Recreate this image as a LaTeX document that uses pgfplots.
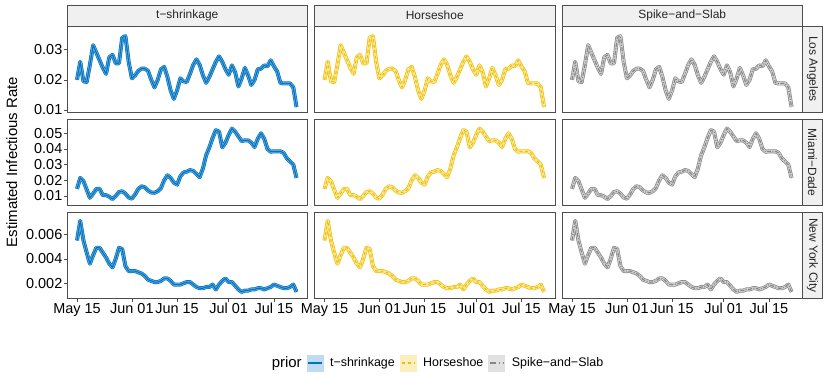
\documentclass[border=0pt]{standalone}
\usepackage{pgfplots}
\pgfplotsset{compat=1.18}
\usepackage{pgfplotstable}
\usepackage{fontspec}
\setmainfont{Liberation Sans}

\definecolor{cBlue}{HTML}{0073C2}
\definecolor{cYellow}{HTML}{EFC000}
\definecolor{cGray}{HTML}{868686}
\definecolor{stripfill}{HTML}{F0F0F0}
\definecolor{frame}{HTML}{4D4D4D}

% day 0 = May 15
\pgfplotstableread{
d m
0 0.0200
1 0.0260
2 0.0195
3 0.0193
4 0.0250
5 0.0315
6 0.0290
7 0.0265
8 0.0240
9 0.0220
10 0.0275
11 0.0283
12 0.0255
13 0.0255
14 0.0340
15 0.0345
16 0.0260
17 0.0205
18 0.0215
19 0.0230
20 0.0237
21 0.0237
22 0.0230
23 0.0200
24 0.0175
25 0.0200
26 0.0235
27 0.0243
28 0.0210
29 0.0165
30 0.0137
31 0.0165
32 0.0205
33 0.0195
34 0.0193
35 0.0220
36 0.0250
37 0.0268
38 0.0250
39 0.0215
40 0.0190
41 0.0210
42 0.0235
43 0.0260
44 0.0278
45 0.0260
46 0.0235
47 0.0217
48 0.0248
49 0.0225
50 0.0178
51 0.0205
52 0.0240
53 0.0215
54 0.0183
55 0.0200
56 0.0235
57 0.0237
58 0.0248
59 0.0245
60 0.0265
61 0.0245
62 0.0228
63 0.0190
64 0.0188
65 0.0188
66 0.0188
67 0.0175
68 0.0110
}\la

\pgfplotstableread{
d m
0 0.0145
1 0.0215
2 0.0195
3 0.0140
4 0.0088
5 0.0115
6 0.0145
7 0.0145
8 0.0105
9 0.0105
10 0.0095
11 0.0080
12 0.0100
13 0.0125
14 0.0130
15 0.0115
16 0.0090
17 0.0083
18 0.0110
19 0.0145
20 0.0162
21 0.0155
22 0.0135
23 0.0122
24 0.0120
25 0.0130
26 0.0150
27 0.0200
28 0.0232
29 0.0215
30 0.0185
31 0.0172
32 0.0225
33 0.0250
34 0.0255
35 0.0265
36 0.0260
37 0.0240
38 0.0220
39 0.0275
40 0.0360
41 0.0410
42 0.0470
43 0.0520
44 0.0510
45 0.0410
46 0.0440
47 0.0490
48 0.0530
49 0.0510
50 0.0480
51 0.0450
52 0.0455
53 0.0455
54 0.0440
55 0.0412
56 0.0465
57 0.0500
58 0.0465
59 0.0400
60 0.0382
61 0.0385
62 0.0385
63 0.0385
64 0.0375
65 0.0340
66 0.0320
67 0.0300
68 0.0215
}\mia

\pgfplotstableread{
d m
0 0.0055
1 0.0071
2 0.0055
3 0.0045
4 0.0036
5 0.0043
6 0.0049
7 0.0049
8 0.0045
9 0.0041
10 0.0036
11 0.0033
12 0.0040
13 0.0049
14 0.0048
15 0.0034
16 0.0030
17 0.0030
18 0.0030
19 0.0029
20 0.0028
21 0.0026
22 0.0023
23 0.0022
24 0.0021
25 0.0021
26 0.0022
27 0.0024
28 0.0024
29 0.0022
30 0.0019
31 0.0019
32 0.0019
33 0.0020
34 0.0021
35 0.0021
36 0.0019
37 0.0017
38 0.0016
39 0.0016
40 0.0017
41 0.0017
42 0.0019
43 0.0015
44 0.0019
45 0.0022
46 0.0024
47 0.0021
48 0.0021
49 0.0018
50 0.0015
51 0.0013
52 0.0014
53 0.0014
54 0.0015
55 0.0015
56 0.0016
57 0.0016
58 0.0015
59 0.0016
60 0.0017
61 0.0019
62 0.0018
63 0.0017
64 0.0016
65 0.0016
66 0.0017
67 0.0019
68 0.0013
}\nyc

\pgfplotsset{
  panel/.style={
    scale only axis, width=240.5bp, height=86bp,
    anchor=north west,
    xmin=-3.1, xmax=71.4,
    axis line style={frame, line width=0.8bp},
    tick style={frame, line width=0.6bp},
    tick align=outside, major tick length=3bp,
    tick pos=left,
    scaled y ticks=false,
    ticklabel style={font=\fontsize{14.5}{16}\selectfont, inner sep=1.5bp},
    xtick=\empty, ytick=\empty,
  },
  bottomrow/.style={xtick={0,17,31,47,61},
    xticklabels={May 15,Jun 01,Jun 15,Jul 01,Jul 15}},
  rowLA/.style={ymin=0.00934, ymax=0.03787},
  rowMI/.style={ymin=0.0039, ymax=0.0588},
  rowNY/.style={ymin=0.00076, ymax=0.00778},
  band/.style={line width=0.7bp, double distance=2.6bp, line join=round, forget plot},
  mid/.style={line width=1.1bp, line join=round, forget plot},
}

% one panel: #1 table, #2 colour, #3 inner shade, #4 centre line pattern
\newcommand{\series}[4]{%
  \addplot[band, #2, double=#2!#3!white] table[x=d, y=m] {#1};
  \addplot[mid, #2, #4] table[x=d, y=m] {#1};
}

\begin{document}
\begin{tikzpicture}
\useasboundingbox (0bp,0bp) rectangle (830bp,-381bp);

% ---- Los Angeles
\begin{axis}[panel, rowLA, at={(67bp,-26bp)},
  ytick={0.01,0.02,0.03}, yticklabels={0.01,0.02,0.03}]
\series{\la}{cBlue}{60}{solid}
\end{axis}
\begin{axis}[panel, rowLA, at={(314.5bp,-26bp)}]
\series{\la}{cYellow}{40}{dash pattern=on 3bp off 2.5bp}
\end{axis}
\begin{axis}[panel, rowLA, at={(562bp,-26bp)}]
\series{\la}{cGray}{40}{dash pattern=on 4bp off 1.5bp on 1bp off 1.5bp}
\end{axis}

% ---- Miami-Dade
\begin{axis}[panel, rowMI, at={(67bp,-119.5bp)},
  ytick={0.01,0.02,0.03,0.04,0.05}, yticklabels={0.01,0.02,0.03,0.04,0.05}]
\series{\mia}{cBlue}{60}{solid}
\end{axis}
\begin{axis}[panel, rowMI, at={(314.5bp,-119.5bp)}]
\series{\mia}{cYellow}{40}{dash pattern=on 3bp off 2.5bp}
\end{axis}
\begin{axis}[panel, rowMI, at={(562bp,-119.5bp)}]
\series{\mia}{cGray}{40}{dash pattern=on 4bp off 1.5bp on 1bp off 1.5bp}
\end{axis}

% ---- New York City
\begin{axis}[panel, rowNY, bottomrow, at={(67bp,-212.5bp)},
  ytick={0.002,0.004,0.006}, yticklabels={0.002,0.004,0.006}]
\series{\nyc}{cBlue}{60}{solid}
\end{axis}
\begin{axis}[panel, rowNY, bottomrow, at={(314.5bp,-212.5bp)},
  legend style={at={(0.501,-0.75)}, anchor=center, legend columns=4,
    draw=none, fill=none, font=\fontsize{12.5}{14}\selectfont,
    /tikz/every odd column/.append style={column sep=5bp},
    /tikz/every even column/.append style={column sep=3bp}},
  legend cell align=left]
\series{\nyc}{cYellow}{40}{dash pattern=on 3bp off 2.5bp}
\addlegendimage{empty legend}
\addlegendentry{\fontsize{15}{18}\selectfont prior}
\addlegendimage{legend image code/.code={
  \fill[cBlue!25] (0bp,-8bp) rectangle (16bp,8bp);
  \draw[cBlue, line width=1.3bp] (1bp,0bp) -- (15bp,0bp);}}
\addlegendentry{t−shrinkage}
\addlegendimage{legend image code/.code={
  \fill[cYellow!25] (0bp,-8bp) rectangle (16bp,8bp);
  \draw[cYellow, line width=1.3bp, dash pattern=on 3bp off 3bp] (2bp,0bp) -- (15bp,0bp);}}
\addlegendentry{Horseshoe}
\addlegendimage{legend image code/.code={
  \fill[cGray!25] (0bp,-8bp) rectangle (16bp,8bp);
  \draw[cGray, line width=1.3bp, dash pattern=on 6bp off 3bp on 1bp off 3bp] (1bp,0bp) -- (15bp,0bp);}}
\addlegendentry{Spike−and−Slab}
\end{axis}
\begin{axis}[panel, rowNY, bottomrow, at={(562bp,-212.5bp)}]
\series{\nyc}{cGray}{40}{dash pattern=on 4bp off 1.5bp on 1bp off 1.5bp}
\end{axis}

% ---- strips
\begin{scope}[every node/.style={font=\fontsize{12}{14}\selectfont, text=black!85}]
\draw[frame, fill=stripfill, line width=0.8bp] (67bp,-5bp) rectangle (307.5bp,-26bp);
\node at (187.25bp,-15.5bp) {t−shrinkage};
\draw[frame, fill=stripfill, line width=0.8bp] (314.5bp,-5bp) rectangle (555bp,-26bp);
\node at (434.75bp,-15.5bp) {Horseshoe};
\draw[frame, fill=stripfill, line width=0.8bp] (562bp,-5bp) rectangle (802.5bp,-26bp);
\node at (682.25bp,-15.5bp) {Spike−and−Slab};

\draw[frame, fill=stripfill, line width=0.8bp] (802.5bp,-26bp) rectangle (822.5bp,-112bp);
\node[rotate=-90] at (812.5bp,-69bp) {Los Angeles};
\draw[frame, fill=stripfill, line width=0.8bp] (802.5bp,-119.5bp) rectangle (822.5bp,-205.5bp);
\node[rotate=-90] at (812.5bp,-162.5bp) {Miami−Dade};
\draw[frame, fill=stripfill, line width=0.8bp] (802.5bp,-212.5bp) rectangle (822.5bp,-298.5bp);
\node[rotate=-90] at (812.5bp,-255.5bp) {New York City};
\end{scope}

\node[rotate=90, inner sep=0pt, font=\fontsize{15}{18}\selectfont] at (11.8bp,-162bp) {Estimated Infectious Rate};
\end{tikzpicture}
\end{document}
